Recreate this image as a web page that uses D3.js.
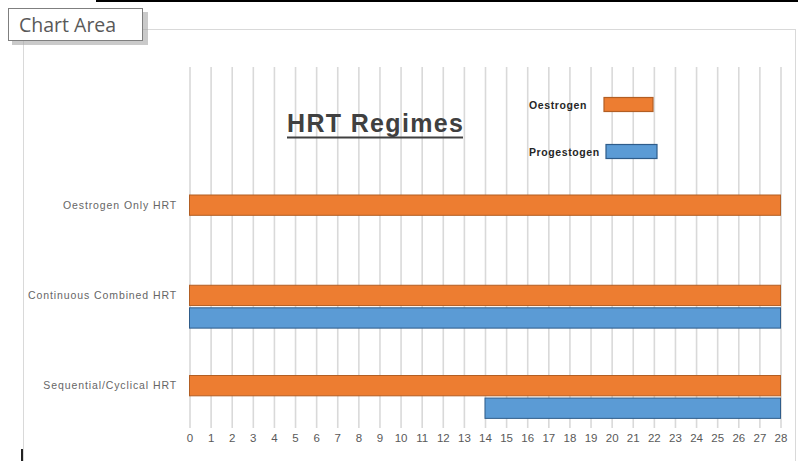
<!DOCTYPE html>
<html>
<head>
<meta charset="utf-8">
<script src="https://cdn.jsdelivr.net/npm/d3@7"></script>
<style>
  body { margin: 0; background: #fff; }
  svg { display: block; }
</style>
</head>
<body>
<svg id="chart" width="798" height="461"></svg>
<script>
// rows of the sheet, top to bottom (blank rows are spacers)
const rowLabels = ['', '', '', '', '', '', 'Oestrogen Only HRT', '', '', '', 'Continuous Combined HRT', '', '', '', 'Sequential/Cyclical HRT', ''];
const oestrogenStart = [null, null, null, null, null, null, 0, null, null, null, 0, null, null, null, 0, null];
const oestrogenEnd   = [null, null, null, null, null, null, 28, null, null, null, 28, null, null, null, 28, null];
const progestogenStart = [null, null, null, null, null, null, null, null, null, null, null, 0, null, null, null, 14];
const progestogenEnd   = [null, null, null, null, null, null, null, null, null, null, null, 28, null, null, null, 28];
const seriesNames = ['Oestrogen', 'Progestogen'];
const dayMax = 28;

const svg = d3.select('#chart');
const colors = { Oestrogen: '#ED7D31', Progestogen: '#5B9BD5' };
const strokes = { Oestrogen: '#B25E23', Progestogen: '#2E5C8A' };

// chart area frame
svg.append('rect')
    .attr('x', 23.5).attr('y', 29.5)
    .attr('width', 772).attr('height', 440)
    .attr('fill', '#fff')
    .attr('stroke', '#d9d9d9');

const x = d3.scaleLinear().domain([0, dayMax]).range([189.5, 780.5]);
const y = d3.scaleBand()
    .domain(d3.range(rowLabels.length))
    .range([58.5, 419.5])
    .paddingInner(0.1)
    .paddingOuter(0.05);

const gridTop = 67, gridBottom = 428;

// gridlines + tick labels
const xAxis = d3.axisBottom(x)
    .ticks(dayMax)
    .tickSize(-(gridBottom - gridTop))
    .tickPadding(6);

const gx = svg.append('g')
    .attr('transform', `translate(0,${gridBottom})`)
    .call(xAxis);
gx.select('.domain').remove();
gx.selectAll('.tick line').attr('stroke', '#d9d9d9').attr('stroke-width', 1.6);
gx.selectAll('.tick text')
    .attr('fill', '#595959')
    .style('font-family', 'Liberation Sans, Arial, sans-serif')
    .style('font-size', '11.5px');

// category labels
svg.append('g').selectAll('text')
    .data(rowLabels.map((d, i) => ({ label: d, i })).filter(d => d.label))
    .enter().append('text')
    .attr('x', 177)
    .attr('y', d => y(d.i) + y.bandwidth() / 2)
    .attr('dy', '0.35em')
    .attr('text-anchor', 'end')
    .attr('fill', '#666')
    .style('font-family', 'Liberation Sans, Arial, sans-serif')
    .style('font-size', '10.5px')
    .style('letter-spacing', '0.9px')
    .text(d => d.label);

// bars
const bars = [];
rowLabels.forEach((_, i) => {
    if (oestrogenStart[i] != null) bars.push({ s: 'Oestrogen', i, a: oestrogenStart[i], b: oestrogenEnd[i] });
    if (progestogenStart[i] != null) bars.push({ s: 'Progestogen', i, a: progestogenStart[i], b: progestogenEnd[i] });
});

svg.append('g').selectAll('rect')
    .data(bars)
    .enter().append('rect')
    .attr('x', d => x(d.a))
    .attr('y', d => y(d.i))
    .attr('width', d => x(d.b) - x(d.a))
    .attr('height', y.bandwidth())
    .attr('fill', d => colors[d.s])
    .attr('stroke', d => strokes[d.s])
    .attr('stroke-width', 1);

// title
svg.append('text')
    .attr('x', 287)
    .attr('y', 132)
    .attr('textLength', 176)
    .attr('lengthAdjust', 'spacing')
    .attr('fill', '#404040')
    .style('font-family', 'Liberation Sans, Arial, sans-serif')
    .style('font-size', '25px')
    .style('font-weight', 'bold')
    .text('HRT Regimes');
svg.append('line')
    .attr('x1', 287).attr('x2', 463)
    .attr('y1', 137.5).attr('y2', 137.5)
    .attr('stroke', '#404040')
    .attr('stroke-width', 2);

// legend
const legend = svg.append('g').selectAll('g')
    .data(seriesNames)
    .enter().append('g')
    .attr('transform', (d, i) => `translate(0,${i * 47})`);
legend.append('text')
    .attr('x', 529)
    .attr('y', 105)
    .attr('dy', '0.35em')
    .attr('fill', '#262626')
    .style('font-family', 'Liberation Sans, Arial, sans-serif')
    .style('font-size', '10.5px')
    .style('font-weight', 'bold')
    .style('letter-spacing', '0.6px')
    .text(d => d);
legend.append('rect')
    .attr('x', (d, i) => 604 + i * 2)
    .attr('y', 97.5)
    .attr('width', (d, i) => 49 + i * 2)
    .attr('height', 14)
    .attr('fill', d => colors[d])
    .attr('stroke', d => strokes[d])
    .attr('stroke-width', 1.2);

// "Chart Area" tooltip
svg.append('rect')
    .attr('x', 12).attr('y', 12)
    .attr('width', 136).attr('height', 33)
    .attr('fill', '#a6a6a6')
    .attr('opacity', 0.6);
svg.append('rect')
    .attr('x', 8.5).attr('y', 8.5)
    .attr('width', 134).attr('height', 32)
    .attr('fill', '#fff')
    .attr('stroke', '#7f7f7f');
svg.append('text')
    .attr('x', 19)
    .attr('y', 32)
    .attr('fill', '#595959')
    .style('font-family', 'Open Sans, sans-serif')
    .style('font-size', '19.5px')
    .text('Chart Area');

// screenshot edge marks
svg.append('rect').attr('x', 96).attr('y', 0).attr('width', 702).attr('height', 2).attr('fill', '#000');
svg.append('rect').attr('x', 21).attr('y', 449).attr('width', 2).attr('height', 12).attr('fill', '#222');
</script>
</body>
</html>
